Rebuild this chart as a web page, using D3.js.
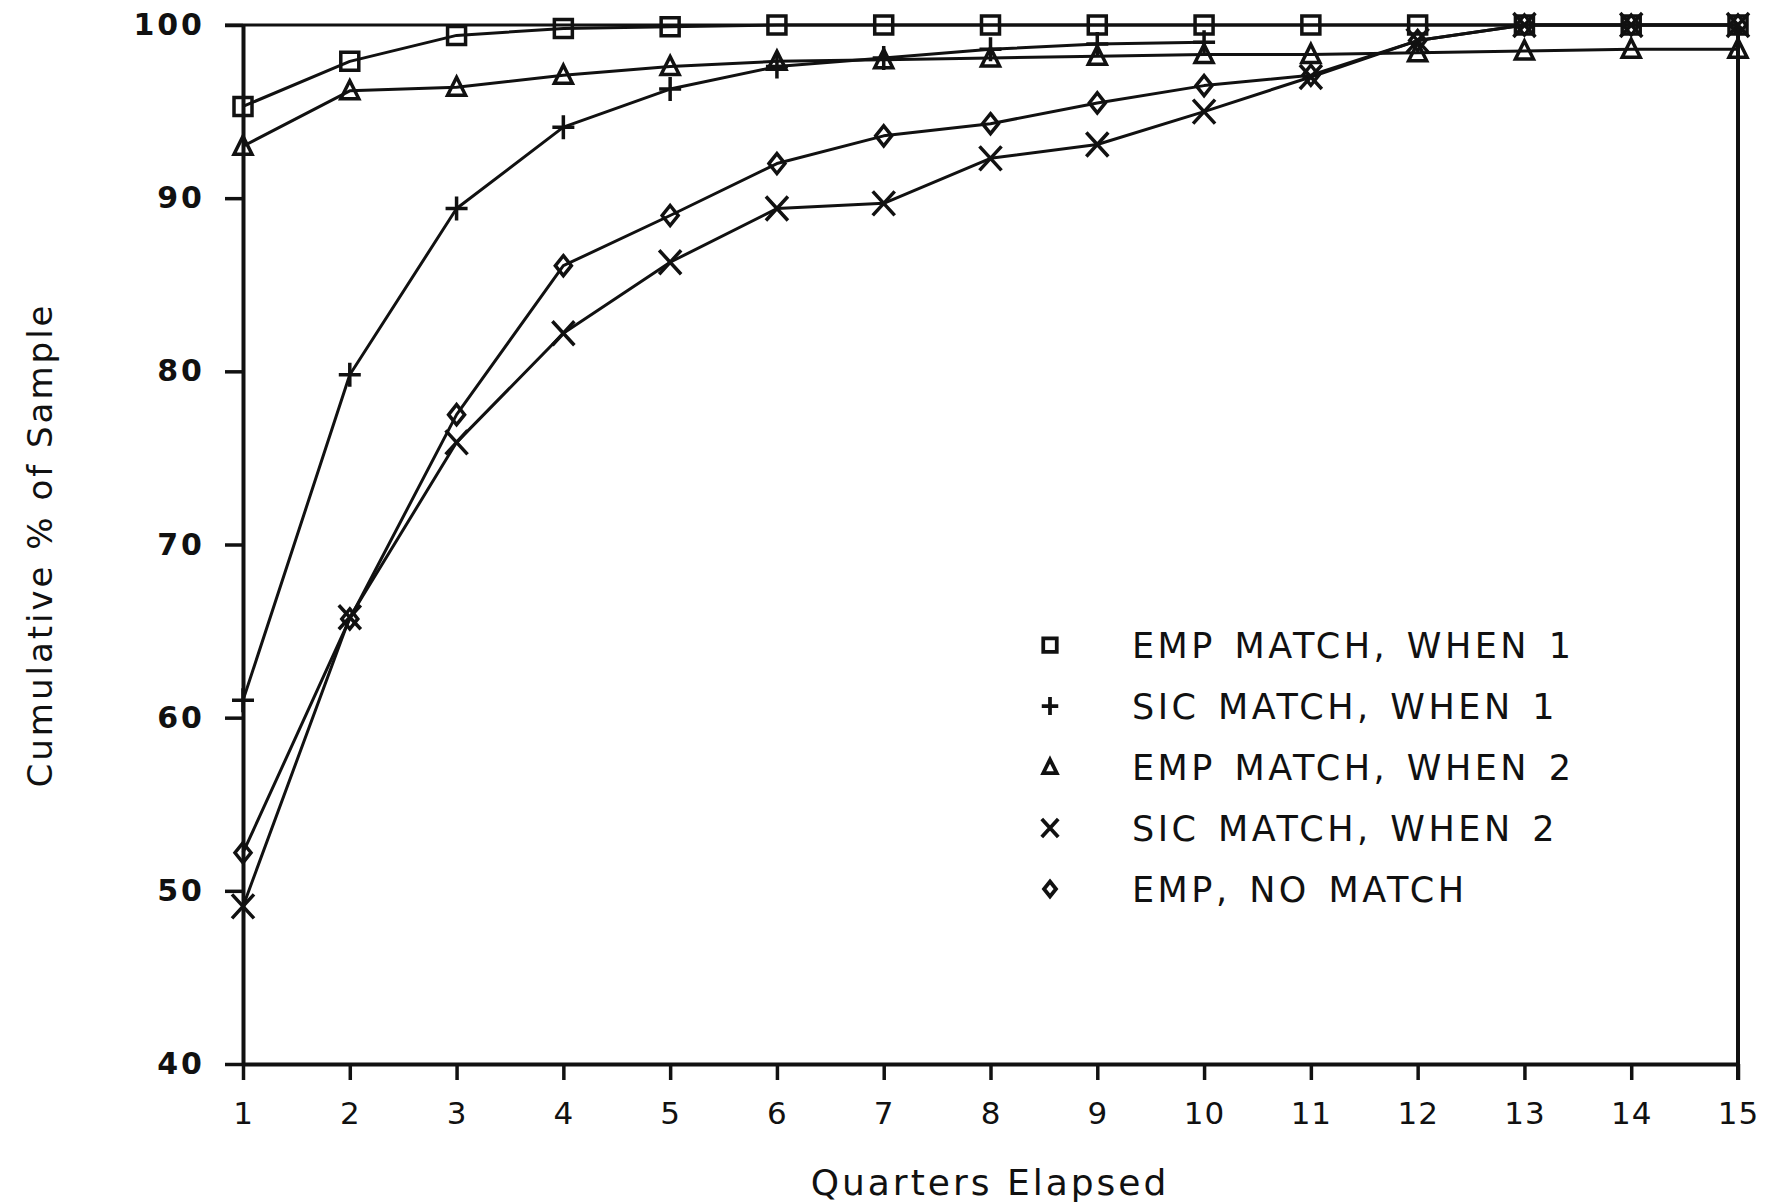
<!DOCTYPE html>
<html>
<head>
<meta charset="utf-8">
<script src="https://cdn.jsdelivr.net/npm/d3@7"></script>
<style>
  html, body { margin: 0; padding: 0; background: #fff; }
  svg { display: block; }
  .tick text { font-family: "DejaVu Sans", sans-serif; fill: #111; }
</style>
</head>
<body>
<div id="chart"></div>
<script>
/* Cumulative % of sample by quarters elapsed — five series, scanned plotter style */

const quarters = [1, 2, 3, 4, 5, 6, 7, 8, 9, 10, 11, 12, 13, 14, 15];
const yTicks = [40, 50, 60, 70, 80, 90, 100];

const empMatch1  = [95.3, 97.9, 99.4, 99.8, 99.9, 100, 100, 100, 100, 100, 100, 100, 100, 100, 100];
const sicMatch1  = [61.0, 79.8, 89.4, 94.1, 96.3, 97.6, 98.1, 98.6, 98.9, 99.0];
const empMatch2  = [93.0, 96.2, 96.4, 97.1, 97.6, 97.9, 98.0, 98.1, 98.2, 98.3, 98.3, 98.4, 98.5, 98.6, 98.6];
const sicMatch2  = [49.1, 65.8, 75.9, 82.2, 86.3, 89.4, 89.7, 92.3, 93.1, 95.0, 97.0, 99.1, 100, 100, 100];
const empNoMatch = [52.2, 65.7, 77.5, 86.1, 89.0, 92.0, 93.6, 94.3, 95.5, 96.5, 97.1, 99.1, 100, 100, 100];

const seriesNames = ['EMP MATCH, WHEN 1', 'SIC MATCH, WHEN 1', 'EMP MATCH, WHEN 2', 'SIC MATCH, WHEN 2', 'EMP, NO MATCH'];
const seriesMarks = ['square', 'plus', 'triangle', 'cross', 'diamond'];
const seriesValues = [empMatch1, sicMatch1, empMatch2, sicMatch2, empNoMatch];

const W = 1775, H = 1204;
const ink = '#111';

const svg = d3.select('#chart').append('svg')
  .attr('width', W)
  .attr('height', H)
  .style('background', '#fff');

const x = d3.scaleLinear().domain([1, 15]).range([243, 1738]);
const y = d3.scaleLinear().domain([40, 100]).range([1064, 25]);

// marker shapes drawn around (0,0)
function markerPath(kind) {
  const p = d3.path();
  if (kind === 'square') {
    p.rect(-9, -9, 18, 18);
  } else if (kind === 'plus') {
    p.moveTo(-11, 0); p.lineTo(11, 0);
    p.moveTo(0, -12); p.lineTo(0, 12);
  } else if (kind === 'triangle') {
    p.moveTo(0, -10); p.lineTo(9, 8); p.lineTo(-9, 8); p.closePath();
  } else if (kind === 'cross') {
    p.moveTo(-11, -12); p.lineTo(11, 12);
    p.moveTo(11, -12); p.lineTo(-11, 12);
  } else if (kind === 'diamond') {
    p.moveTo(0, -10); p.lineTo(8, 0); p.lineTo(0, 10); p.lineTo(-8, 0); p.closePath();
  }
  return p.toString();
}

// Frame: top line at 100 and right edge at 15
svg.append('line')
  .attr('x1', x(1) - 18).attr('x2', x(15))
  .attr('y1', y(100)).attr('y2', y(100))
  .attr('stroke', ink).attr('stroke-width', 3);
svg.append('line')
  .attr('x1', x(15)).attr('x2', x(15))
  .attr('y1', y(100)).attr('y2', y(40) + 16)
  .attr('stroke', ink).attr('stroke-width', 4);

// Axes
const yAxis = svg.append('g')
  .attr('transform', `translate(${x(1)},0)`)
  .call(d3.axisLeft(y).tickValues(yTicks).tickSize(18).tickPadding(20).tickSizeOuter(0));
yAxis.selectAll('text')
  .attr('font-size', 30)
  .attr('font-weight', 'bold')
  .attr('letter-spacing', 3);

const xAxis = svg.append('g')
  .attr('transform', `translate(0,${y(40)})`)
  .call(d3.axisBottom(x).tickValues(quarters).tickFormat(d3.format('d')).tickSize(16).tickPadding(22).tickSizeOuter(0));
xAxis.selectAll('text')
  .attr('font-size', 31)
  .attr('letter-spacing', 1);

[yAxis, xAxis].forEach(ax => {
  ax.select('.domain').attr('stroke', ink).attr('stroke-width', 4);
  ax.selectAll('.tick line').attr('stroke', ink).attr('stroke-width', 3.5);
});

// Series lines and markers
const line = d3.line()
  .x((d, i) => x(quarters[i]))
  .y(d => y(d));

seriesValues.forEach((vals, s) => {
  svg.append('path')
    .datum(vals)
    .attr('d', line)
    .attr('fill', 'none')
    .attr('stroke', ink)
    .attr('stroke-width', 3)
    .attr('stroke-linejoin', 'round');

  svg.append('g')
    .selectAll('path')
    .data(vals)
    .join('path')
    .attr('transform', (d, i) => `translate(${x(quarters[i])},${y(d)})`)
    .attr('d', markerPath(seriesMarks[s]))
    .attr('fill', 'none')
    .attr('stroke', ink)
    .attr('stroke-width', 3.5);
});

// Legend
const legend = svg.append('g').attr('transform', 'translate(1050,645)');
seriesNames.forEach((name, i) => {
  const row = legend.append('g').attr('transform', `translate(0,${i * 61})`);
  row.append('path')
    .attr('d', markerPath(seriesMarks[i]))
    .attr('transform', 'scale(0.75)')
    .attr('fill', 'none')
    .attr('stroke', ink)
    .attr('stroke-width', 5);
  row.append('text')
    .attr('x', 82)
    .attr('dy', '0.36em')
    .attr('font-family', '"DejaVu Sans", sans-serif')
    .attr('font-size', 35)
    .attr('letter-spacing', 3.5)
    .attr('word-spacing', 4)
    .attr('fill', ink)
    .text(name);
});

// Axis titles
svg.append('text')
  .attr('x', 990)
  .attr('y', 1195)
  .attr('text-anchor', 'middle')
  .attr('font-family', '"DejaVu Sans", sans-serif')
  .attr('font-size', 36)
  .attr('letter-spacing', 3)
  .attr('fill', ink)
  .text('Quarters Elapsed');

svg.append('text')
  .attr('transform', 'translate(52,545) rotate(-90)')
  .attr('text-anchor', 'middle')
  .attr('font-family', '"DejaVu Sans", sans-serif')
  .attr('font-size', 34)
  .attr('letter-spacing', 3)
  .attr('fill', ink)
  .text('Cumulative % of Sample');
</script>
</body>
</html>
